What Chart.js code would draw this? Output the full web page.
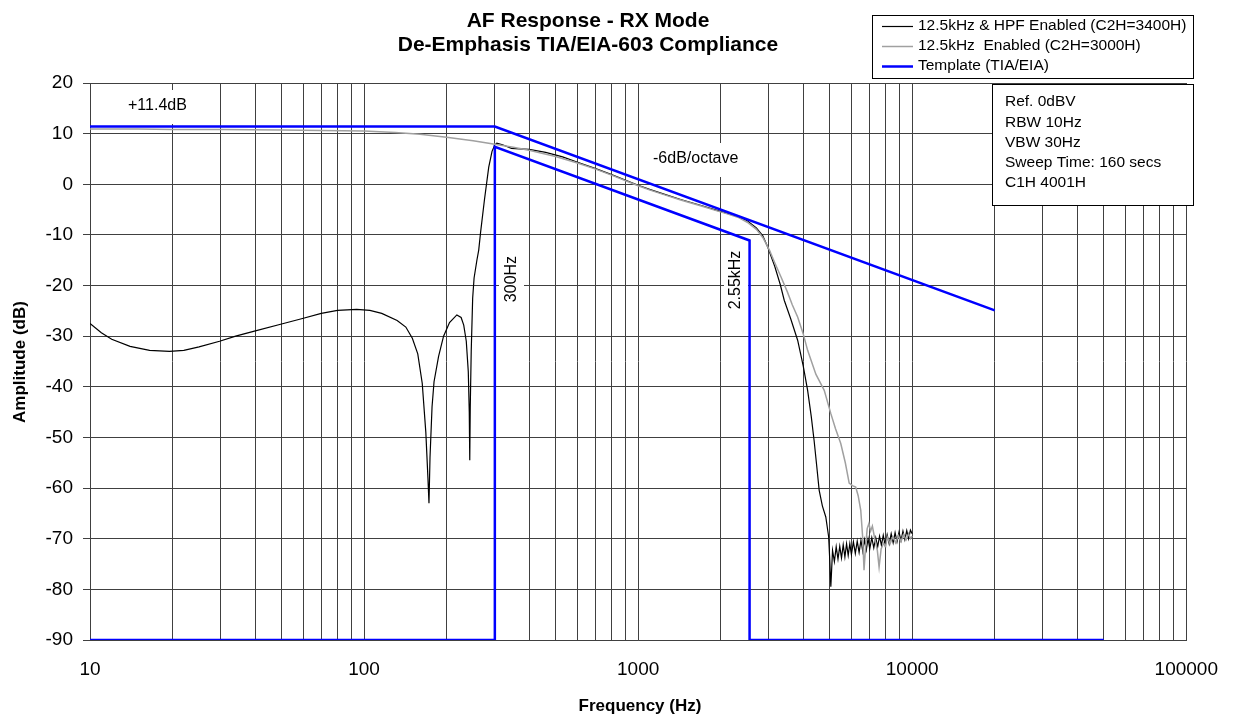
<!DOCTYPE html>
<html>
<head>
<meta charset="utf-8">
<script src="https://cdn.jsdelivr.net/npm/chart.js@4"></script>
<style>
  body { margin: 0; background: #fff; }
  #wrap { width: 1236px; height: 717px; }
</style>
</head>
<body>
<div id="wrap"><canvas id="myChart" width="1236" height="717"></canvas></div>
<script>
// tick labels
const xDecades = [10, 100, 1000, 10000, 100000];
const yTicks = [-90, -80, -70, -60, -50, -40, -30, -20, -10, 0, 10, 20];

const titleLines = ['AF Response - RX Mode', 'De-Emphasis TIA/EIA-603 Compliance'];
const seriesNames = ['12.5kHz & HPF Enabled (C2H=3400H)', '12.5kHz  Enabled (C2H=3000H)', 'Template (TIA/EIA)'];
const infoLines = ['Ref. 0dBV', 'RBW 10Hz', 'VBW 30Hz', 'Sweep Time: 160 secs', 'C1H 4001H'];

// 12.5kHz & HPF enabled (black)
const hpfFreq = [10, 11, 12, 14, 16.5, 19.5, 22, 25, 29.7, 34, 39.8, 50, 59.6, 69.8, 80, 94, 105, 116, 132, 142, 150, 157, 163, 168, 171, 172.5, 174, 177, 180, 187, 195, 205, 218, 226, 231, 236, 240, 242, 243, 244, 246, 249, 252, 258, 262, 266, 275, 285, 293, 300, 305,
  320, 345, 370, 400, 460, 530, 605, 700, 800, 1000, 1100, 1250, 1430, 1700, 1900, 2100, 2310, 2500, 2700, 2850, 2970, 3150, 3300, 3412, 3600, 3819, 4000, 4153, 4280, 4385, 4480, 4575, 4700, 4838, 4955, 5000, 5047,
  5120, 5200, 5280, 5360, 5440, 5520, 5600, 5680, 5760, 5840, 5920, 6000, 6100, 6200, 6300, 6400, 6500, 6600, 6700, 6800, 6900, 7000, 7120, 7240, 7360, 7480, 7600, 7720, 7840, 7960, 8100, 8240, 8380, 8520, 8660, 8800, 8950, 9100, 9250, 9400, 9550, 9700, 9850, 10000];
const hpfAmp = [-27.5, -29.3, -30.6, -32.0, -32.8, -33.0, -32.8, -32.1, -31.0, -30.0, -29.0, -27.6, -26.5, -25.5, -24.9, -24.7, -24.9, -25.5, -26.9, -28.2, -30.4, -33.5, -39.3, -49, -58, -63, -54, -44, -39, -34, -30, -27.3, -25.8, -26.3, -27.8, -31, -37, -45, -54.5, -44, -33, -22.5, -18.5, -15, -13, -9.6, -3, 3.4, 6.5, 7.8, 8.1,
  7.8, 7.1, 7.0, 6.9, 6.3, 5.4, 4.3, 3.1, 1.9, -0.2, -1.0, -2.0, -3.0, -4.2, -5.0, -5.7, -6.4, -7.2, -8.6, -10.2, -12.4, -16.2, -19.8, -22.9, -26.5, -30.8, -35.8, -40.7, -45.8, -50.6, -55.5, -60.4, -63.5, -65.7, -69.6, -74, -79.5,
  -72.3, -74.5, -71.6, -74.0, -71.5, -73.8, -71.2, -73.6, -71.0, -73.3, -71.0, -73.1, -70.6, -72.9, -70.5, -72.7, -70.3, -72.5, -70.2, -72.2, -70.0, -72.0, -69.8, -71.8, -69.8, -71.6, -69.5, -71.3, -69.3, -71.2, -69.2, -71.0, -69.0, -70.8, -68.8, -70.6, -68.7, -70.4, -68.5, -70.2, -68.4, -70.0, -68.3, -69.0];

// 12.5kHz enabled (grey)
const stdFreq = [10, 15, 20, 30, 50, 70, 100, 130, 160, 200, 250, 300, 350, 400, 500, 600, 700, 800, 1000, 1100, 1250, 1430, 1700, 1900, 2100, 2310, 2500, 2700, 2850, 3013, 3150, 3321, 3500, 3650, 3819, 4000, 4153, 4450, 4775, 5047, 5250, 5486, 5700, 5888, 6050, 6220, 6350, 6490, 6600, 6670, 6750, 6850,
  6950, 7050, 7155, 7300, 7460, 7570, 7700, 7860, 8000, 8110, 8300, 8500, 8700, 8900, 9100, 9300, 9500, 9700, 9860, 10000];
const stdAmp = [10.9, 10.9, 10.8, 10.8, 10.7, 10.6, 10.5, 10.2, 9.9, 9.3, 8.6, 7.9, 7.3, 6.7, 5.5, 4.2, 3.0, 1.8, -0.3, -1.1, -2.1, -3.1, -4.3, -5.1, -5.8, -6.5, -7.5, -8.9, -10.5, -13.0, -15.5, -18.3, -21.2, -23.8, -26.2, -29.5, -32.8, -37.5, -40.7, -45.3, -48.3, -51.2, -55, -59, -59.5, -59.8, -61.5, -64.4, -70, -76.2, -72, -68,
  -67, -68.5, -67.5, -70, -72.3, -75.6, -72, -70.9, -71.5, -69.7, -71, -69.6, -70.8, -69.4, -70.5, -69.2, -70.2, -69, -70, -69.5];

// TIA/EIA template (null = break in the line)
const templateFreq = [10, 300, 20000, 20000, 10, 300, 300, 2550, 2550, 50000];
const templateAmp = [11.4, 11.4, -24.9, null, -90, -90, 7.4, -11.1, -90, -90];

function toPoints(xs, ys) {
    return xs.map(function (x, i) { return { x: x, y: ys[i] }; });
}

const xTickValues = [];
xDecades.forEach(function (d, i) {
    if (i === xDecades.length - 1) { xTickValues.push(d); return; }
    for (let m = 1; m <= 9; m++) xTickValues.push(m * d);
});

const FONT = '"Liberation Sans", Arial, sans-serif';

const annotate = {
    id: 'annotate',
    afterDraw: function (chart) {
        const c = chart.ctx;
        c.save();
        c.fillStyle = '#000';
        c.textBaseline = 'middle';

        // titles
        c.textAlign = 'center';
        c.font = 'bold 21px ' + FONT;
        c.fillText(titleLines[0], 588, 21);
        c.fillText(titleLines[1], 588, 45);

        c.font = 'bold 17px ' + FONT;
        c.fillText('Frequency (Hz)', 640, 706);
        c.save();
        c.translate(20, 362);
        c.rotate(-Math.PI / 2);
        c.fillText('Amplitude (dB)', 0, 0);
        c.restore();

        // text boxes in the plot
        c.font = '16px ' + FONT;
        c.fillStyle = '#fff';
        c.fillRect(116, 90, 85, 34);
        c.fillRect(641, 143, 110, 34);
        c.fillRect(499, 245, 25, 65);
        c.fillRect(724, 245, 24, 68);
        c.fillStyle = '#000';
        c.textAlign = 'left';
        c.fillText('+11.4dB', 128, 106);
        c.fillText('-6dB/octave', 653, 159);
        c.textAlign = 'center';
        c.save();
        c.translate(512, 279);
        c.rotate(-Math.PI / 2);
        c.fillText('300Hz', 0, 0);
        c.restore();
        c.save();
        c.translate(736, 280);
        c.rotate(-Math.PI / 2);
        c.fillText('2.55kHz', 0, 0);
        c.restore();

        // legend
        c.fillStyle = '#fff';
        c.fillRect(872, 15, 321, 63);
        c.strokeStyle = '#000';
        c.lineWidth = 1;
        c.strokeRect(872.5, 15.5, 321, 63);
        const legColors = ['#000', '#a0a0a0', '#0000ff'];
        const legWidths = [1.2, 1.5, 2.5];
        c.font = '15.5px ' + FONT;
        c.textAlign = 'left';
        seriesNames.forEach(function (name, i) {
            const y = 26 + i * 20;
            c.strokeStyle = legColors[i];
            c.lineWidth = legWidths[i];
            c.beginPath();
            c.moveTo(882, y + 0.5);
            c.lineTo(913, y + 0.5);
            c.stroke();
            c.fillStyle = '#000';
            c.fillText(name, 918, y);
        });

        // info box
        c.fillStyle = '#fff';
        c.fillRect(992, 84, 201, 121);
        c.strokeStyle = '#000';
        c.lineWidth = 1;
        c.strokeRect(992.5, 84.5, 201, 121);
        c.fillStyle = '#000';
        infoLines.forEach(function (t, i) {
            c.fillText(t, 1005, 102 + i * 20.3);
        });
        c.restore();
    }
};

document.addEventListener('DOMContentLoaded', function () {
    const ctx = document.getElementById('myChart').getContext('2d');

    const myChart = new Chart(ctx, {
        type: 'line',
        data: {
            datasets: [{
                label: seriesNames[2],
                data: toPoints(templateFreq, templateAmp),
                borderColor: '#0000ff',
                borderWidth: 2.5,
                pointRadius: 0,
                spanGaps: false,
                order: 0
            }, {
                label: seriesNames[1],
                data: toPoints(stdFreq, stdAmp),
                borderColor: '#a0a0a0',
                borderWidth: 1.5,
                pointRadius: 0,
                order: 1
            }, {
                label: seriesNames[0],
                data: toPoints(hpfFreq, hpfAmp),
                borderColor: '#000000',
                borderWidth: 1.2,
                pointRadius: 0,
                order: 2
            }]
        },
        options: {
            responsive: false,
            animation: false,
            devicePixelRatio: 1,
            layout: { padding: { top: 83, right: 45, left: 0, bottom: 0 } },
            plugins: {
                legend: { display: false },
                title: { display: false },
                tooltip: { enabled: false }
            },
            scales: {
                x: {
                    type: 'logarithmic',
                    min: 10,
                    max: 100000,
                    afterBuildTicks: function (scale) {
                        scale.ticks = xTickValues.map(function (v) { return { value: v }; });
                    },
                    afterFit: function (scale) { scale.height = 77; },
                    grid: { color: '#404040', lineWidth: 1, drawTicks: false },
                    border: { color: '#404040' },
                    ticks: {
                        autoSkip: false,
                        maxRotation: 0,
                        padding: 18,
                        color: '#000',
                        font: { size: 19, family: FONT },
                        callback: function (value) {
                            return xDecades.indexOf(value) >= 0 ? String(value) : '';
                        }
                    }
                },
                y: {
                    min: yTicks[0],
                    max: yTicks[yTicks.length - 1],
                    afterFit: function (scale) { scale.width = 90; },
                    afterBuildTicks: function (scale) {
                        scale.ticks = yTicks.map(function (v) { return { value: v }; });
                    },
                    grid: { color: '#404040', lineWidth: 1, tickLength: 7 },
                    border: { color: '#404040' },
                    ticks: {
                        padding: 10,
                        color: '#000',
                        font: { size: 19, family: FONT }
                    }
                }
            }
        },
        plugins: [annotate]
    });
});
</script>
</body>
</html>
